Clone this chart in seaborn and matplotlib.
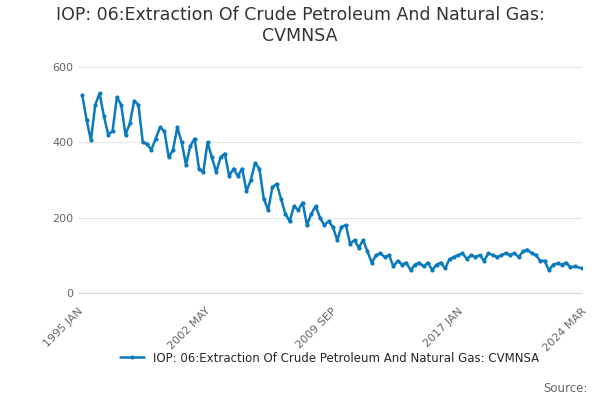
import numpy as np
import pandas as pd
import seaborn as sns
import matplotlib
matplotlib.use('Agg')
import matplotlib.pyplot as plt
import matplotlib.dates as mdates

# quarterly readings, starting 1995 Q2
values = [525, 460, 405,
          500, 530, 470, 420,
          430, 520, 500, 420,
          450, 510, 500, 400,
          395, 380, 410, 440,
          430, 360, 380, 440,
          400, 340, 390, 410,
          330, 320, 400, 360,
          320, 360, 370, 310,
          330, 310, 330, 270,
          300, 345, 330, 250,
          220, 280, 290, 250,
          210, 190, 230, 220,
          240, 180, 210, 230,
          200, 180, 190, 175,
          140, 175, 180, 130,
          140, 120, 140, 110,
          80, 100, 105, 95,
          100, 70, 85, 75,
          80, 60, 75, 80,
          70, 80, 60, 75,
          80, 65, 90, 95,
          100, 105, 90, 100,
          95, 100, 85, 105,
          100, 95, 100, 105,
          100, 105, 95, 110,
          115, 105, 100, 85,
          85, 60, 75, 78,
          75, 80, 68, 70,
          65]
dates = pd.date_range('1995-04-01', periods=len(values), freq='QS')
dates = dates[:-1].append(pd.DatetimeIndex(['2024-03-01']))
df = pd.DataFrame({'date': dates, 'value': values})

tick_dates = pd.to_datetime(['1995-01-01', '2002-05-01', '2009-09-01', '2017-01-01', '2024-03-01'])
tick_labels = ['1995 JAN', '2002 MAY', '2009 SEP', '2017 JAN', '2024 MAR']
label = 'IOP: 06:Extraction Of Crude Petroleum And Natural Gas: CVMNSA'

sns.set_style('white')
fig, ax = plt.subplots(figsize=(6, 4), dpi=100)
sns.lineplot(data=df, x='date', y='value', ax=ax, color='#0a7abf', lw=1.8,
             marker='o', markersize=3, markeredgewidth=0, label=label)

ax.set_xlim(tick_dates[0], tick_dates[-1])
ax.set_ylim(0, 640)
ax.set_yticks([0, 200, 400, 600])
ax.set_xticks(tick_dates)
ax.set_xticklabels(tick_labels, rotation=45, ha='right', rotation_mode='anchor')
ax.xaxis.set_minor_locator(mdates.YearLocator(2))
ax.tick_params(axis='x', which='both', length=6, color='#ccd6eb')
ax.tick_params(axis='both', labelsize=8, labelcolor='#666666', length=0, which='major')
ax.tick_params(axis='x', which='major', length=6)
ax.grid(axis='y', color='#e6e6e6', lw=0.8)
for s in ['top', 'right', 'left']:
    ax.spines[s].set_visible(False)
ax.spines['bottom'].set_color('#ccd6eb')
ax.set_xlabel('')
ax.set_ylabel('')

fig.suptitle('IOP: 06:Extraction Of Crude Petroleum And Natural Gas:\nCVMNSA',
             fontsize=12.5, color='#333333', y=0.985)
ax.legend(loc='upper center', bbox_to_anchor=(0.5, -0.2), frameon=False, fontsize=8.5,
          handlelength=2)
fig.text(0.98, 0.02, 'Source:', ha='right', fontsize=8.5, color='#666666')
plt.subplots_adjust(left=0.13, right=0.97, top=0.87, bottom=0.268)
plt.savefig('out.png')
